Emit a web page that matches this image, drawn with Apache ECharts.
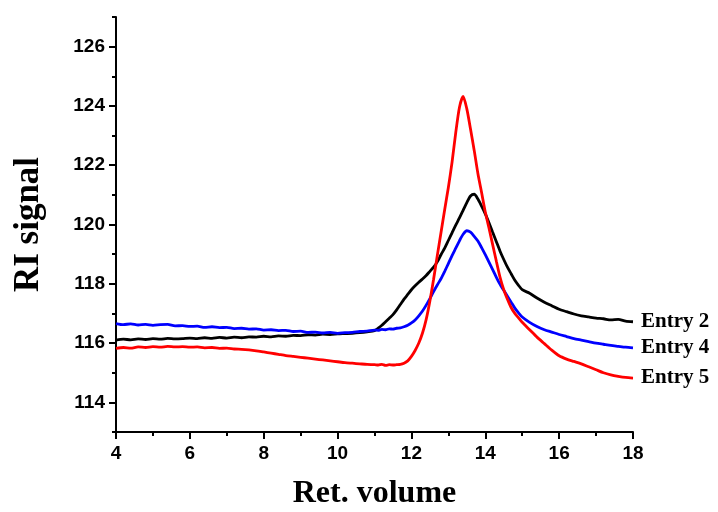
<!DOCTYPE html>
<html>
<head>
<meta charset="utf-8">
<script src="https://cdn.jsdelivr.net/npm/echarts@6/dist/echarts.min.js"></script>
<style>
html,body{margin:0;padding:0;background:#fff;}
#c{width:718px;height:512px;}
</style>
</head>
<body>
<div id="c"></div>
<script>
// Retention volume grid (x)
var volume = [
  4.0,4.2,4.4,4.6,4.8,5.0,5.2,5.4,5.6,5.8,6.0,6.2,6.4,6.6,6.8,7.0,7.2,7.4,7.6,7.8,
  8.0,8.2,8.4,8.6,8.8,9.0,9.2,9.4,9.6,9.8,10.0,10.2,10.4,10.6,10.8,
  11.0,11.1,11.2,11.3,11.4,11.5,11.6,11.7,11.8,11.9,12.0,12.1,12.2,12.3,12.4,12.5,12.6,12.7,12.8,12.9,
  13.0,13.1,13.2,13.3,13.4,13.5,13.6,13.7,13.8,13.9,14.0,14.1,14.2,14.3,14.4,14.5,14.6,14.7,14.8,14.9,15.0,
  15.2,15.4,15.6,15.8,16.0,16.2,16.4,16.6,16.8,17.0,17.2,17.4,17.6,17.8,18.0
];
// Entry 2 (black)
var entry2 = [
  116.10,116.13,116.11,116.14,116.12,116.15,116.13,116.16,116.14,116.15,116.17,116.15,116.18,116.16,116.19,116.17,116.20,116.18,116.21,116.20,
  116.23,116.21,116.24,116.23,116.26,116.25,116.28,116.27,116.30,116.29,116.31,116.32,116.33,116.35,116.38,
  116.42,116.50,116.60,116.72,116.84,116.96,117.12,117.30,117.48,117.64,117.80,117.93,118.05,118.16,118.28,118.42,118.56,118.74,118.98,119.20,
  119.46,119.72,119.98,120.22,120.48,120.74,120.96,121.02,120.86,120.62,120.36,120.06,119.74,119.42,119.10,118.82,118.56,118.34,118.12,117.95,117.80,
  117.68,117.52,117.38,117.26,117.14,117.06,116.98,116.92,116.88,116.84,116.82,116.78,116.80,116.74,116.72
];
// Entry 4 (blue)
var entry4 = [
  116.66,116.62,116.65,116.61,116.63,116.60,116.62,116.63,116.58,116.59,116.56,116.57,116.53,116.55,116.52,116.53,116.49,116.50,116.47,116.48,
  116.44,116.45,116.42,116.43,116.39,116.40,116.36,116.37,116.34,116.36,116.33,116.35,116.36,116.39,116.40,
  116.44,116.43,116.46,116.45,116.48,116.47,116.50,116.51,116.55,116.60,116.68,116.78,116.92,117.08,117.28,117.50,117.74,117.96,118.17,118.42,
  118.68,118.95,119.20,119.45,119.67,119.79,119.74,119.60,119.44,119.22,118.98,118.73,118.48,118.22,117.98,117.78,117.58,117.38,117.18,117.02,116.88,
  116.70,116.56,116.45,116.37,116.29,116.22,116.15,116.10,116.05,116.00,115.96,115.92,115.89,115.86,115.84
];
// Entry 5 (red)
var entry5 = [
  115.82,115.85,115.83,115.87,115.85,115.88,115.86,115.89,115.87,115.88,115.86,115.87,115.84,115.85,115.82,115.83,115.80,115.79,115.77,115.74,
  115.70,115.66,115.62,115.58,115.55,115.52,115.49,115.46,115.43,115.40,115.37,115.34,115.32,115.30,115.28,
  115.27,115.26,115.28,115.25,115.27,115.26,115.27,115.28,115.32,115.40,115.55,115.75,116.00,116.34,116.80,117.42,118.15,118.95,119.72,120.50,
  121.25,122.10,123.10,123.95,124.32,123.90,123.22,122.50,121.72,121.08,120.42,119.88,119.32,118.76,118.22,117.80,117.48,117.20,117.00,116.85,116.70,
  116.45,116.20,115.98,115.76,115.57,115.46,115.38,115.30,115.20,115.10,115.00,114.93,114.88,114.84,114.82
];
var seriesNames = ['Entry 2', 'Entry 4', 'Entry 5'];
var seriesColors = ['#000000', '#0000ff', '#ff0000'];
var yMajorTicks = [114, 116, 118, 120, 122, 124, 126];
var yMinorTicks = [113, 115, 117, 119, 121, 123, 125, 127];

function pairs(ys) {
  var out = [];
  for (var i = 0; i < volume.length; i++) out.push([volume[i], ys[i]]);
  return out;
}
var allData = [entry2, entry4, entry5];

var chart = echarts.init(document.getElementById('c'), null, {renderer: 'canvas'});
var tickFont = {fontFamily: 'Liberation Sans, Arial, sans-serif', fontWeight: 'bold', fontSize: 19, color: '#000'};
chart.setOption({
  animation: false,
  backgroundColor: '#ffffff',
  grid: {left: 116, right: 85, top: 17, bottom: 80, containLabel: false, outerBoundsMode: 'none'},
  xAxis: {
    type: 'value', min: 4, max: 18, interval: 2,
    name: 'Ret. volume', nameLocation: 'middle', nameGap: 46,
    nameTextStyle: {fontFamily: 'Liberation Serif, Times New Roman, serif', fontWeight: 'bold', fontSize: 32, color: '#000'},
    axisLine: {show: true, onZero: false, lineStyle: {color: '#000', width: 2}},
    axisTick: {show: true, inside: false, length: 7, lineStyle: {color: '#000', width: 2}},
    minorTick: {show: true, splitNumber: 2, length: 4, lineStyle: {color: '#000', width: 2}},
    axisLabel: Object.assign({margin: 12}, tickFont),
    splitLine: {show: false}
  },
  yAxis: [{
    type: 'value', min: 113, max: 127, position: 'left',
    name: 'RI signal', nameLocation: 'middle', nameGap: 70, nameRotate: 90,
    nameTextStyle: {fontFamily: 'Liberation Serif, Times New Roman, serif', fontWeight: 'bold', fontSize: 35, color: '#000'},
    axisLine: {show: true, onZero: false, lineStyle: {color: '#000', width: 2}},
    axisTick: {show: true, inside: false, length: 7, customValues: yMajorTicks, lineStyle: {color: '#000', width: 2}},
    axisLabel: Object.assign({margin: 11, customValues: yMajorTicks}, tickFont),
    splitLine: {show: false}
  }, {
    type: 'value', min: 113, max: 127, position: 'left', offset: 0,
    axisLine: {show: false},
    axisTick: {show: true, inside: false, length: 4, customValues: yMinorTicks, lineStyle: {color: '#000', width: 2}},
    axisLabel: {show: false},
    splitLine: {show: false}
  }],
  series: seriesNames.map(function (n, i) {
    return {
      name: n, type: 'line', yAxisIndex: 0,
      data: pairs(allData[i]),
      showSymbol: false, symbol: 'none', smooth: 0.25,
      lineStyle: {color: seriesColors[i], width: 2.8},
      itemStyle: {color: seriesColors[i]},
      endLabel: {
        show: true, formatter: '{a}', distance: 8,
        fontFamily: 'Liberation Serif, Times New Roman, serif', fontWeight: 'bold', fontSize: 21, color: '#000'
      }
    };
  })
});
</script>
</body>
</html>
